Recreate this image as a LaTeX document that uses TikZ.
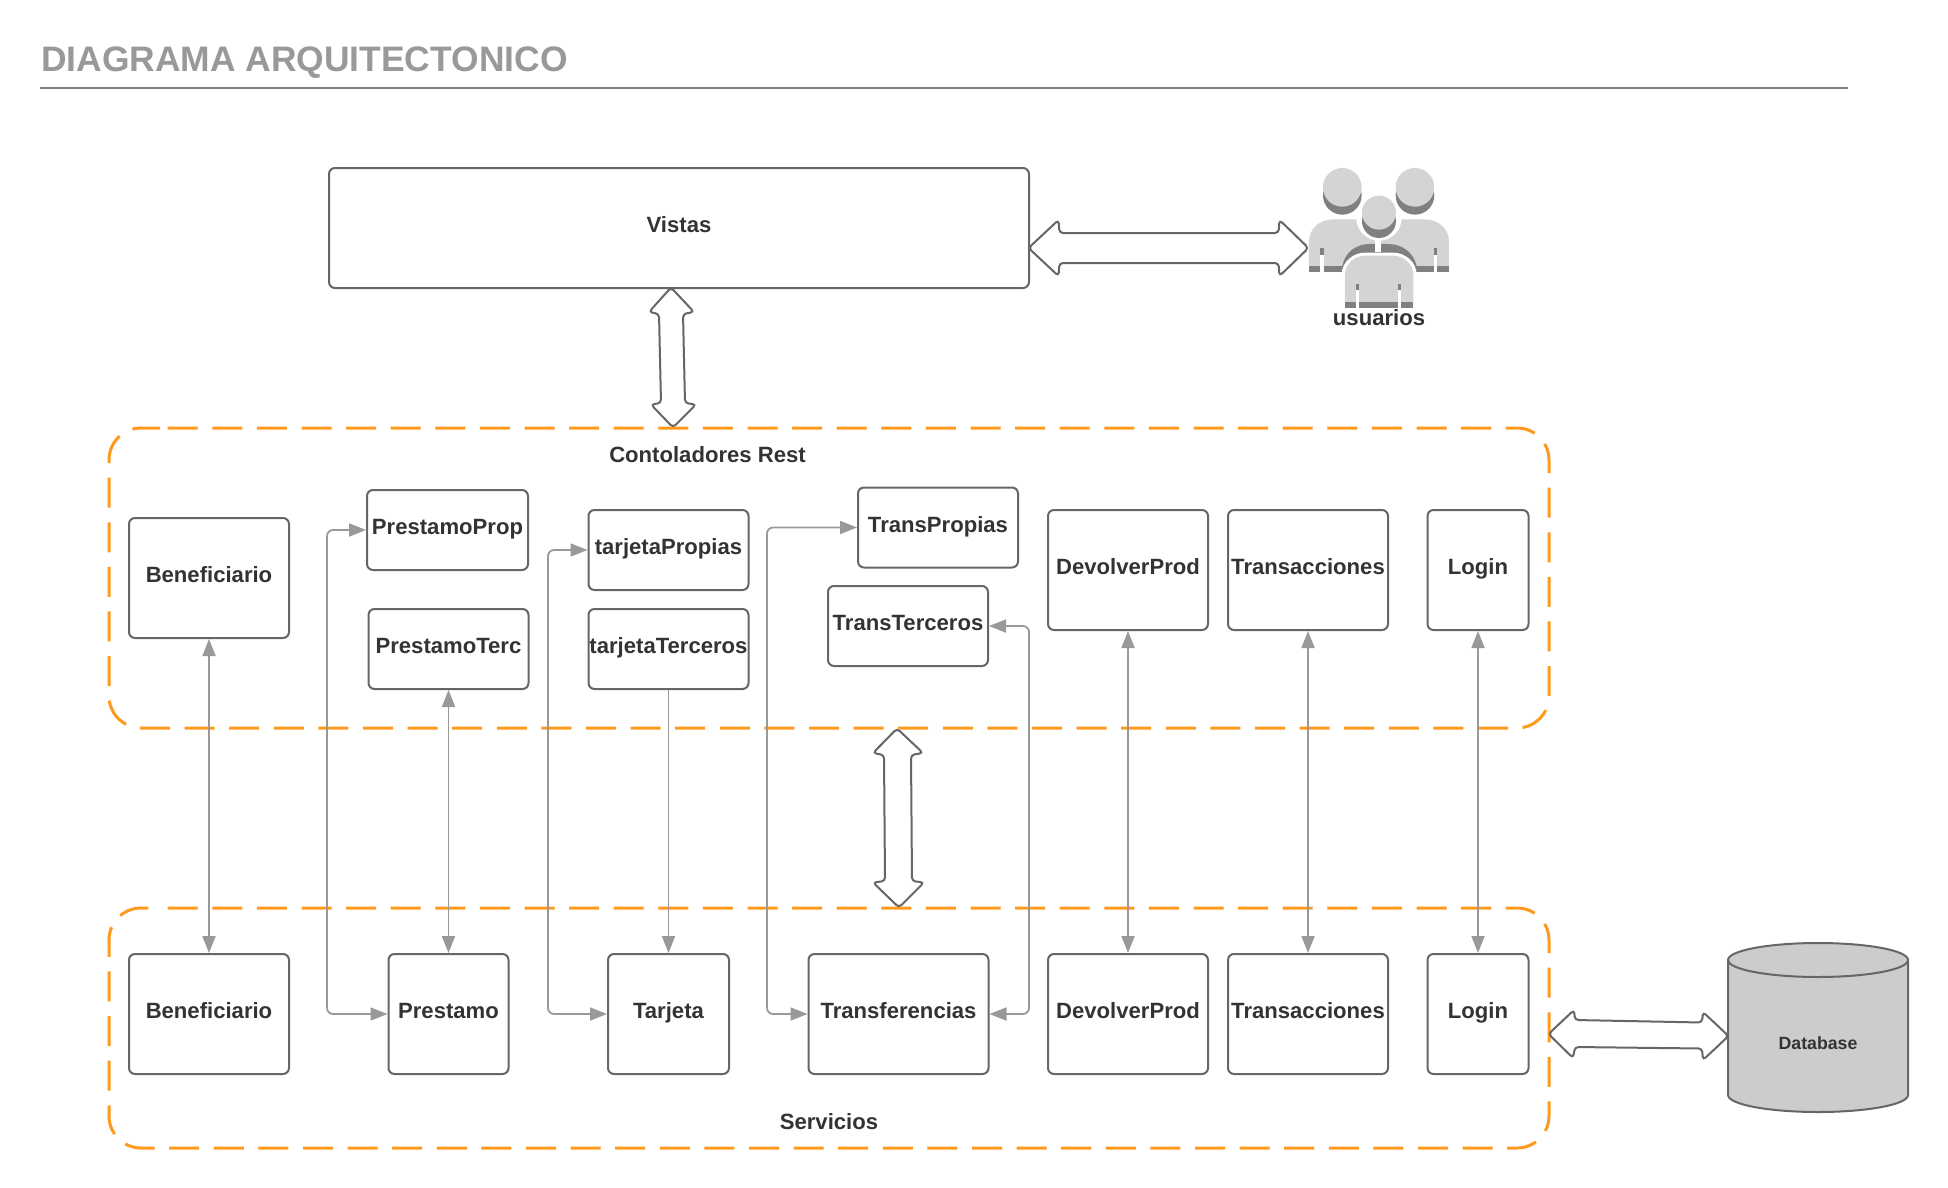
\documentclass[tikz,border=0pt]{standalone}
\usepackage{fontspec}
\setmainfont{Liberation Sans}
\usetikzlibrary{arrows.meta}
\definecolor{stroke}{HTML}{666666}
\definecolor{conn}{HTML}{999999}
\definecolor{ink}{HTML}{333333}
\definecolor{orange}{HTML}{FF9A1F}
\definecolor{ilight}{HTML}{D3D4D4}
\definecolor{idark}{HTML}{808080}
\tikzset{
  boxnode/.style={draw=stroke,line width=2pt,rounded corners=6pt,fill=white,inner sep=0pt,align=center,
    text=ink,font=\fontsize{22.1}{26}\selectfont\bfseries,text height=16pt,text depth=6.2pt},
  label/.style={text=ink,font=\fontsize{22.1}{26}\selectfont\bfseries,inner sep=0pt},
  grp/.style={draw=orange,line width=3pt,rounded corners=32pt,dash pattern=on 30pt off 14.6pt,dash phase=36.9pt},
  wire/.style={draw=conn,line width=1.8pt,rounded corners=6pt},
  both/.style={wire,{Triangle[length=17pt,width=13pt]}-{Triangle[length=17pt,width=13pt]}},
  one/.style={wire,-{Triangle[length=17pt,width=13pt]}},
  bigarrow/.style={draw=stroke,fill=white,line width=2pt,rounded corners=3.5pt},
}
\begin{document}
\begin{tikzpicture}[x=1pt,y=-1pt]
\useasboundingbox[fill=white] (0,0) rectangle (1948,1188);
% title
\node[anchor=base west,inner sep=0pt,text=conn,font=\fontsize{35.4}{40}\selectfont\bfseries] (title) at (41,71.5) {DIAGRAMA ARQUITECTONICO};
\coordinate (ruleL) at (40,88);
\coordinate (ruleR) at (1848,88);
\draw[draw=idark,line width=1.5pt] (ruleL) -- (ruleR);
% groups
\draw[grp] (160,428) -- (1549,428) -- (1549,728) -- (109,728) -- (109,428) -- (160,428);
\draw[grp] (160,908) -- (1549,908) -- (1549,1148) -- (109,1148) -- (109,908) -- (160,908);
\node[label] (ctl) at (707.5,455) {Contoladores Rest};
\node[label] (srv) at (829,1121.5) {Servicios};
% upper
\node[boxnode,minimum width=700pt,minimum height=120pt] (vi) at (679,228) {Vistas};
\node[boxnode,minimum width=160pt,minimum height=120pt] (bt) at (209,578) {Beneficiario};
\node[boxnode,minimum width=161pt,minimum height=80pt] (pp) at (447.5,530) {PrestamoProp};
\node[boxnode,minimum width=160pt,minimum height=80pt] (pt) at (448.5,649) {PrestamoTerc};
\node[boxnode,minimum width=160pt,minimum height=80pt] (tp) at (668.5,550) {tarjetaPropias};
\node[boxnode,minimum width=160pt,minimum height=80pt] (tt) at (668.5,649) {tarjetaTerceros};
\node[boxnode,minimum width=160pt,minimum height=80pt] (trp) at (938,527.5) {TransPropias};
\node[boxnode,minimum width=160pt,minimum height=80pt] (trt) at (908,626) {TransTerceros};
\node[boxnode,minimum width=160pt,minimum height=120pt] (dv) at (1128,570) {DevolverProd};
\node[boxnode,minimum width=160pt,minimum height=120pt] (tr) at (1308,570) {Transacciones};
\node[boxnode,minimum width=101pt,minimum height=120pt] (lg) at (1478,570) {Login};
% lower
\node[boxnode,minimum width=160pt,minimum height=120pt] (bs) at (209,1014) {Beneficiario};
\node[boxnode,minimum width=120pt,minimum height=120pt] (ps) at (448.5,1014) {Prestamo};
\node[boxnode,minimum width=121pt,minimum height=120pt] (ts) at (668.5,1014) {Tarjeta};
\node[boxnode,minimum width=180pt,minimum height=120pt] (tf) at (898.5,1014) {Transferencias};
\node[boxnode,minimum width=160pt,minimum height=120pt] (ds) at (1128,1014) {DevolverProd};
\node[boxnode,minimum width=160pt,minimum height=120pt] (rs) at (1308,1014) {Transacciones};
\node[boxnode,minimum width=101pt,minimum height=120pt] (ls) at (1478,1014) {Login};
% connectors
\coordinate (busA) at (327,0);
\coordinate (busB) at (548,0);
\coordinate (busC) at (767,0);
\coordinate (busD) at (1029,0);
\draw[both] (bt.south) -- (bs.north);
\draw[both] (pt.south) -- (ps.north);
\draw[one] (tt.south) -- (tt.south |- ts.north);
\draw[both] (dv.south) -- (ds.north);
\draw[both] (tr.south) -- (rs.north);
\draw[both] (lg.south) -- (ls.north);
\draw[both] (pp.west) -- (busA |- pp.west) -- (busA |- ps.west) -- (ps.west);
\draw[both] (tp.west) -- (busB |- tp.west) -- (busB |- ts.west) -- (ts.west);
\draw[both] (trp.west) -- (busC |- trp.west) -- (busC |- tf.west) -- (tf.west);
\draw[both] (trt.east) -- (busD |- trt.east) -- (busD |- tf.east) -- (tf.east);
% database
\draw[draw=stroke,fill=black!20,line width=2pt] (1728,960) -- (1728,1095) arc[start angle=180,end angle=360,x radius=90pt,y radius=17pt] -- (1908,960) arc[start angle=0,end angle=180,x radius=90pt,y radius=17pt] -- cycle;
\draw[draw=stroke,line width=2pt] (1728,960) arc[start angle=180,end angle=360,x radius=90pt,y radius=17pt];
\node[text=ink,inner sep=0pt,font=\fontsize{17.7}{20}\selectfont\bfseries] (db) at (1818,1043) {Database};
% big arrows
\draw[bigarrow] (1028.5,248) -- (1058.5,220) -- (1059.5,233) -- (1278.5,233) -- (1279.5,220) -- (1308.5,248) -- (1279.5,276) -- (1278.5,263) -- (1059.5,263) -- (1058.5,276) -- cycle;
\draw[bigarrow] (671,287.5) -- (694,312) -- (683,314) -- (685,403) -- (696,404.5) -- (673,427.5) -- (651,404.5) -- (661,403) -- (659,314) -- (649,312) -- cycle;
\draw[bigarrow] (897,728.5) -- (923,753) -- (911,755) -- (912,881) -- (924,882.5) -- (899,907.5) -- (873,882.5) -- (885,881) -- (884,755) -- (873,753) -- cycle;
\draw[bigarrow] (1548.5,1034) -- (1574,1010) -- (1575,1020) -- (1702,1022.5) -- (1703,1012) -- (1728.5,1036) -- (1703,1060) -- (1702,1048.5) -- (1575,1047) -- (1573,1058) -- cycle;
% users icon (zoom coordinates)
\begin{scope}[shift={(1000,140)},x=0.3333pt,y=-0.3333pt]
\fill[idark] (1027,166) circle[radius=58*0.3333pt];
\fill[idark] (1245,166) circle[radius=58*0.3333pt];
\fill[ilight] (1027,142) circle[radius=58*0.3333pt];
\fill[ilight] (1245,142) circle[radius=58*0.3333pt];
\fill[ilight] (927,378) -- (927,305) .. controls (927,265) and (960,238) .. (1000,238) -- (1274,238) .. controls (1314,238) and (1347,265) .. (1347,305) -- (1347,378) -- cycle;
\fill[idark] (927,378) rectangle (1347,397);
\fill[idark] (960,325) rectangle (972,345);
\fill[idark] (1302,325) rectangle (1312,345);
\fill[white] (960,345) rectangle (972,398);
\fill[white] (1302,345) rectangle (1312,398);
% shadow above the front figure
\fill[idark] (1025,397) -- (1027,378) .. controls (1035,335) and (1070,312) .. (1110,312) -- (1164,312) .. controls (1204,312) and (1240,335) .. (1250,378) -- (1250,397) -- cycle;
\fill[white] (1137,234) circle[radius=68*0.3333pt];
\fill[white] (1125,295) rectangle (1143,335);
% front figure
\fill[white] (1025,405) .. controls (1025,365) and (1060,338) .. (1095,338) -- (1180,338) .. controls (1215,338) and (1250,365) .. (1250,405) -- (1250,510) -- (1025,510) -- cycle;
\fill[ilight] (1035,486) -- (1035,405) .. controls (1035,372) and (1065,347) .. (1095,347) -- (1180,347) .. controls (1210,347) and (1240,372) .. (1240,405) -- (1240,486) -- cycle;
\fill[idark] (1035,486) rectangle (1240,505);
\fill[idark] (1068,432) rectangle (1078,450);
\fill[idark] (1195,432) rectangle (1203,450);
\fill[white] (1068,450) rectangle (1078,506);
\fill[white] (1195,450) rectangle (1203,506);
\fill[idark] (1137,243) circle[radius=51*0.3333pt];
\fill[ilight] (1137,218) circle[radius=51*0.3333pt];
\end{scope}
\node[label,anchor=base] (usr) at (1379,325.5) {usuarios};
\end{tikzpicture}
\end{document}
